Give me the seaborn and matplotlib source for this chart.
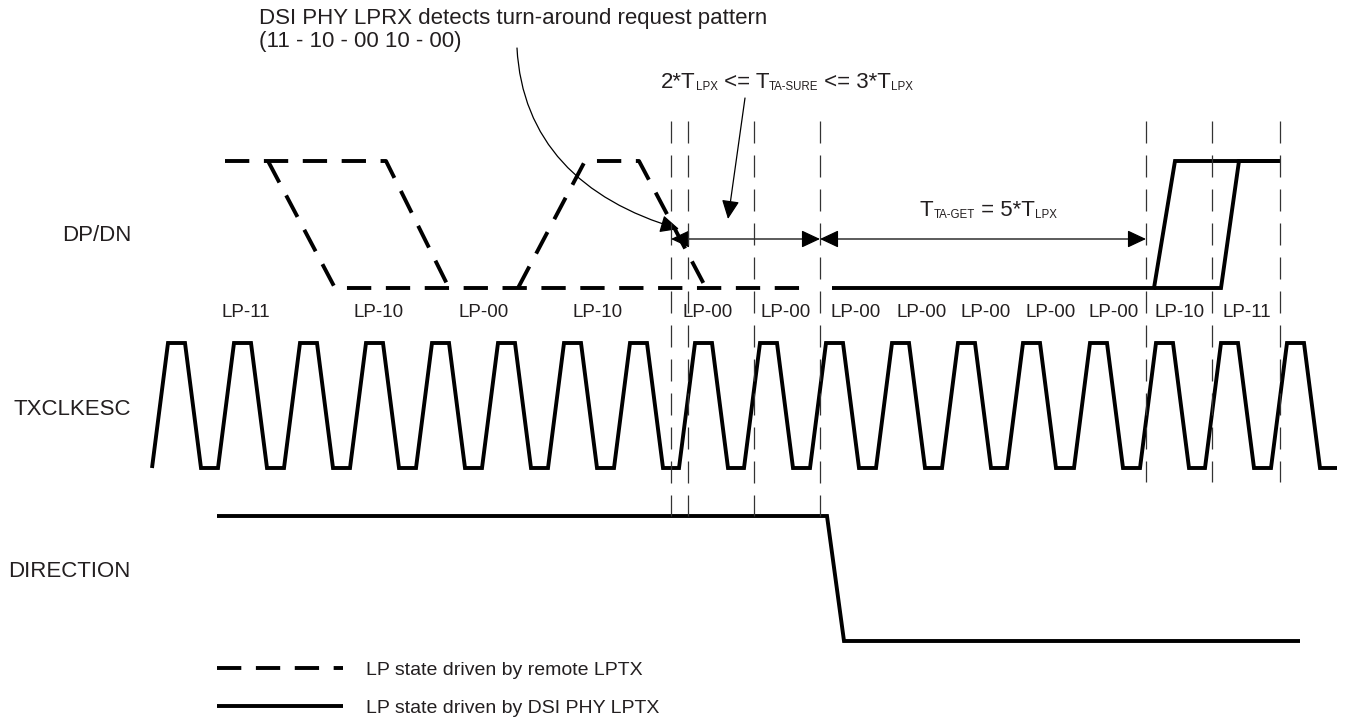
import matplotlib
matplotlib.use("Agg")
import matplotlib.pyplot as plt
import seaborn as sns
from matplotlib.patches import FancyArrowPatch
from matplotlib.path import Path

sns.set_theme(style="white")
plt.rcParams["font.family"] = ["Liberation Sans", "DejaVu Sans"]

# ---------------- data (diagram coordinates, pixel-like units) ----------------
# signal levels
DP_HIGH, DP_LOW = 161, 288
CLK_HIGH, CLK_LOW = 343, 468
DIR_HIGH, DIR_LOW = 516, 641

# TXCLKESC: start of each high plateau, edge and plateau widths
clk_top_start = [168, 234, 300, 366, 432, 498, 564, 630, 695, 760,
                 826, 892, 958, 1023, 1090, 1156, 1221, 1287]
clk_edge = 16
clk_top = 17
clk_end = 1337

# DP/DN driven by remote LPTX (dashed)
dp_remote1_x = [225, 386, 449]
dp_remote1_y = [DP_HIGH, DP_HIGH, DP_LOW]
dp_remote2_x = [518, 585, 639, 706]
dp_remote2_y = [DP_LOW, DP_HIGH, DP_HIGH, DP_LOW]
dn_remote_x = [268, 335, 812]
dn_remote_y = [DP_HIGH, DP_LOW, DP_LOW]

# DP/DN driven by DSI PHY LPTX (solid)
dn_local_x = [832, 1154, 1175, 1281]
dn_local_y = [DP_LOW, DP_LOW, DP_HIGH, DP_HIGH]
dp_local_x = [1154, 1221, 1239, 1281]
dp_local_y = [DP_LOW, DP_LOW, DP_HIGH, DP_HIGH]

# DIRECTION
dir_x = [217, 827, 844, 1300]
dir_y = [DIR_HIGH, DIR_HIGH, DIR_LOW, DIR_LOW]

# timing markers
vline_x = [671, 688, 754, 820, 1146, 1212, 1280]
vline_top = 121
vline_bottom = [516, 516, 516, 516, 482, 482, 482]

# LP state labels
lp_labels = ["LP-11", "LP-10", "LP-00", "LP-10", "LP-00", "LP-00", "LP-00",
             "LP-00", "LP-00", "LP-00", "LP-00", "LP-10", "LP-11"]
lp_x = [246, 379, 484, 598, 708, 786, 856, 922, 986, 1051, 1114, 1180, 1247]

signal_names = ["DP/DN", "TXCLKESC", "DIRECTION"]
signal_name_y = [241, 415, 577]

legend_labels = ["LP state driven by remote LPTX", "LP state driven by DSI PHY LPTX"]
legend_y = [668, 706]

# ---------------- figure ----------------
W, H = 1354, 719
fig = plt.figure(figsize=(W / 100, H / 100), dpi=100)
ax = fig.add_axes([0, 0, 1, 1])
ax.set_xlim(0, W)
ax.set_ylim(H, 0)
ax.axis("off")

TXT = "#231F20"
LW = 2.8
DASH = (0, (6.25, 3.75))
line_kw = dict(color="black", linewidth=LW, sort=False, estimator=None,
               ax=ax, solid_capstyle="butt", solid_joinstyle="miter",
               dash_capstyle="butt", legend=False)

# clock waveform
clk_x = [clk_top_start[0] - clk_edge]
clk_y = [CLK_LOW]
for ts in clk_top_start:
    clk_x += [ts - clk_edge, ts, ts + clk_top, ts + clk_top + clk_edge]
    clk_y += [CLK_LOW, CLK_HIGH, CLK_HIGH, CLK_LOW]
clk_x.append(clk_end)
clk_y.append(CLK_LOW)
sns.lineplot(x=clk_x, y=clk_y, **line_kw)

# remote (dashed)
for xs, ys in [(dp_remote1_x, dp_remote1_y), (dp_remote2_x, dp_remote2_y),
               (dn_remote_x, dn_remote_y)]:
    sns.lineplot(x=xs, y=ys, linestyle=DASH, **line_kw)

# local (solid)
for xs, ys in [(dn_local_x, dn_local_y), (dp_local_x, dp_local_y), (dir_x, dir_y)]:
    sns.lineplot(x=xs, y=ys, **line_kw)

# dashed timing markers
ax.vlines(vline_x, vline_top, vline_bottom, colors="#333333", linewidth=0.9,
          linestyles=[(0, (17.6, 9.6))])

# double-headed dimension arrows
arr_y = 239
for xa, xb in [(vline_x[0], vline_x[3]), (vline_x[3], vline_x[4])]:
    ax.add_patch(FancyArrowPatch((xa, arr_y), (xb, arr_y),
                                 arrowstyle="<|-|>,head_length=11.5,head_width=5.4",
                                 mutation_scale=1, lw=0.9, color="black",
                                 shrinkA=0, shrinkB=0))

# straight pointer arrow from T_TA-SURE text
ax.add_patch(FancyArrowPatch((745, 98), (728, 219),
                             arrowstyle="-|>,head_length=11.5,head_width=5.4",
                             mutation_scale=1, lw=0.9, color="black",
                             shrinkA=0, shrinkB=0))

# curved pointer arrow from title
curve = Path([(517, 48), (522, 140), (580, 200), (679, 229)],
             [Path.MOVETO, Path.CURVE4, Path.CURVE4, Path.CURVE4])
ax.add_patch(FancyArrowPatch(path=curve,
                             arrowstyle="-|>,head_length=11.5,head_width=5.4",
                             mutation_scale=1, lw=0.9, color="black"))

# ---------------- text ----------------
FS = 16
ax.text(259, 24, "DSI PHY LPRX detects turn-around request pattern",
        fontsize=FS, color=TXT, va="baseline", ha="left")
ax.text(259, 47, "(11 - 10 - 00 10 - 00)",
        fontsize=FS, color=TXT, va="baseline", ha="left")

for name, y in zip(signal_names, signal_name_y):
    ax.text(131, y, name, fontsize=FS, color=TXT, va="baseline", ha="right")

for lab, x in zip(lp_labels, lp_x):
    ax.text(x, 317, lab, fontsize=13.5, color=TXT, va="baseline", ha="center")

renderer = fig.canvas.get_renderer()


def rich(x, y, pieces):
    for s, size, dy in pieces:
        t = ax.text(x, y + dy, s, fontsize=size, color=TXT,
                    va="baseline", ha="left")
        x += t.get_window_extent(renderer=renderer).width


SUB = 8.3
rich(661, 88, [("2*T", FS, 0), ("LPX", SUB, 2.5), (" <= T", FS, 0),
               ("TA-SURE", SUB, 2.5), (" <= 3*T", FS, 0), ("LPX", SUB, 2.5)])
rich(920, 216, [("T", FS, 0), ("TA-GET", SUB, 2.5), (" = 5*T", FS, 0),
                ("LPX", SUB, 2.5)])

# legend
leg_x = [217, 343]
sns.lineplot(x=leg_x, y=[legend_y[0]] * 2, linestyle=DASH, **line_kw)
sns.lineplot(x=leg_x, y=[legend_y[1]] * 2, **line_kw)
for lab, y in zip(legend_labels, legend_y):
    ax.text(366, y + 7, lab, fontsize=14, color=TXT, va="baseline", ha="left")

ax.set_xlim(0, W)
ax.set_ylim(H, 0)
ax.set_xlabel("")
ax.set_ylabel("")
fig.savefig("out.png", dpi=100)
